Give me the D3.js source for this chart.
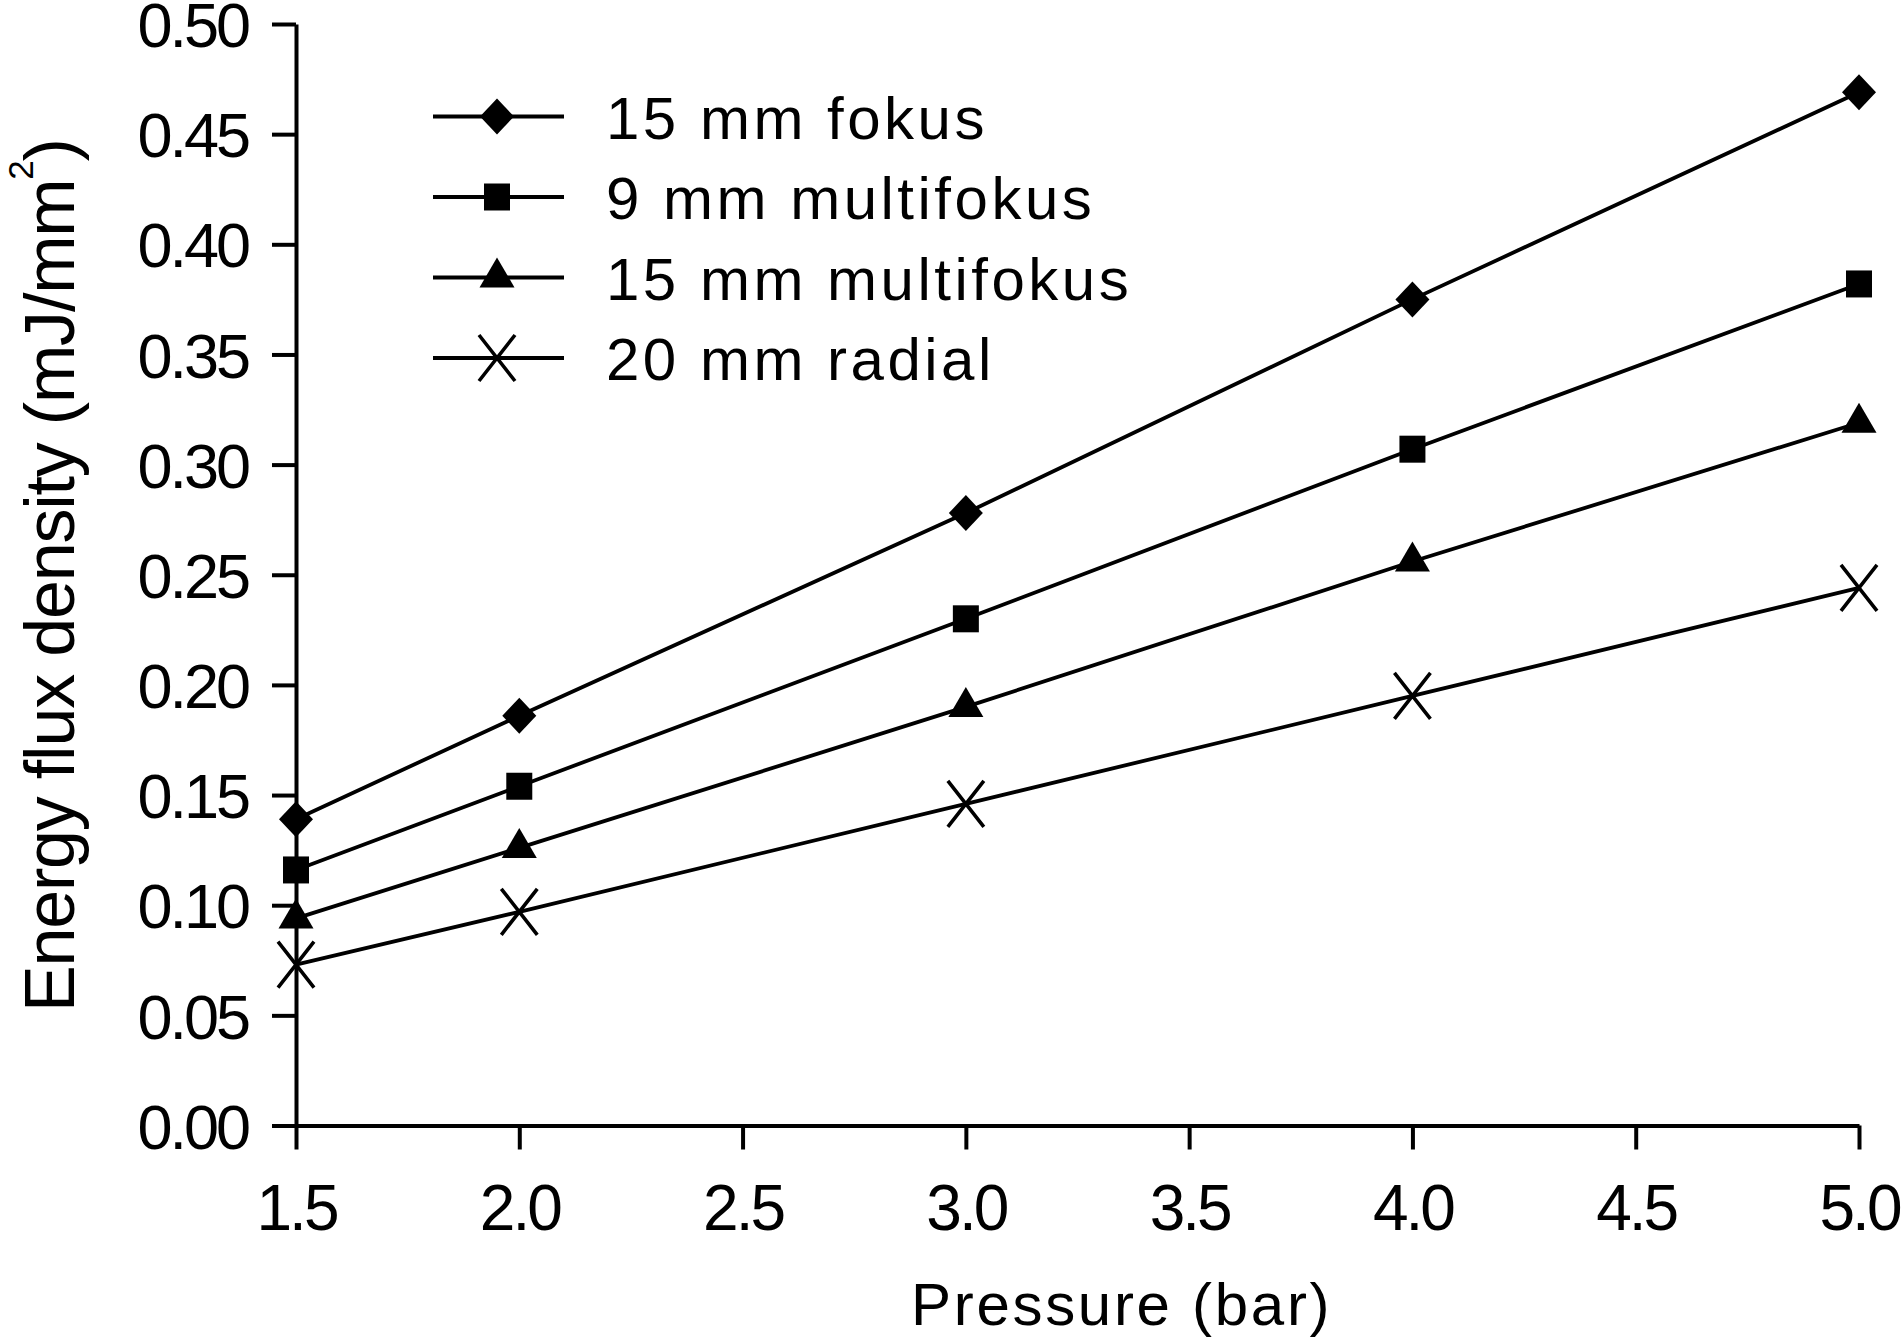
<!DOCTYPE html>
<html>
<head>
<meta charset="utf-8">
<script src="https://cdn.jsdelivr.net/npm/d3@7"></script>
<style>
  html, body { margin: 0; padding: 0; background: #fff; }
  svg { display: block; }
</style>
</head>
<body>
<svg id="chart" width="1901" height="1337"></svg>
<script>
// ---- data ----
const pressures = [1.5, 2.0, 3.0, 4.0, 5.0];
const fokus15 = [0.139, 0.186, 0.278, 0.375, 0.469];
const multifokus9 = [0.116, 0.154, 0.230, 0.307, 0.382];
const multifokus15 = [0.094, 0.126, 0.190, 0.256, 0.319];
const radial20 = [0.073, 0.097, 0.146, 0.195, 0.244];
const seriesNames = ["15 mm fokus", "9 mm multifokus", "15 mm multifokus", "20 mm radial"];
const seriesMarkers = ["diamond", "square", "triangle", "cross"];
const xTickValues = [1.5, 2.0, 2.5, 3.0, 3.5, 4.0, 4.5, 5.0];
const yTickValues = [0, 0.05, 0.10, 0.15, 0.20, 0.25, 0.30, 0.35, 0.40, 0.45, 0.50];
const xTitle = "Pressure (bar)";
const yTitleMain = "Energy flux density (mJ/mm";
const yTitleSup = "2";
const yTitleEnd = ")";

const seriesValues = [fokus15, multifokus9, multifokus15, radial20];
const series = seriesNames.map((name, i) => ({
  name, marker: seriesMarkers[i],
  points: pressures.map((p, j) => ({ x: p, y: seriesValues[i][j] }))
}));

const FONT = "'Liberation Sans', Arial, Helvetica, sans-serif";
const svg = d3.select("#chart");

const x = d3.scaleLinear().domain([1.5, 5.0]).range([296, 1859]);
const y = d3.scaleLinear().domain([0, 0.5]).range([1125.5, 24]);

// marker path generators (centered at 0,0)
function markerPath(type) {
  switch (type) {
    case "diamond": return "M0,-18L17,0L0,18L-17,0Z";
    case "square": return "M-13,-13.5H13V13.5H-13Z";
    case "triangle": return "M0,-20L17.5,10L-17.5,10Z";
    case "cross": return "M-18,-23L18,23M18,-23L-18,23";
  }
}
function drawMarker(g, type) {
  const p = g.append("path").attr("d", markerPath(type));
  if (type === "cross") p.attr("fill", "none").attr("stroke", "#000").attr("stroke-width", 3.6);
  else p.attr("fill", "#000").attr("stroke", "none");
}

// ---- axes ----
const yAxis = d3.axisLeft(y).tickValues(yTickValues).tickFormat(d3.format(".2f"))
  .tickSize(24).tickSizeOuter(0).tickPadding(24);
const gy = svg.append("g").attr("transform", `translate(${x(1.5)},0)`).call(yAxis);
gy.select(".domain").attr("stroke", "#000").attr("stroke-width", 4);
gy.selectAll(".tick line").attr("stroke", "#000").attr("stroke-width", 4);
gy.selectAll(".tick text").attr("font-family", FONT).attr("font-size", 63)
  .attr("letter-spacing", "-3px").attr("fill", "#000").attr("dy", "0.36em");

const xAxis = d3.axisBottom(x).tickValues(xTickValues).tickFormat(d3.format(".1f"))
  .tickSize(24).tickSizeOuter(0);
const gx = svg.append("g").attr("transform", `translate(0,${y(0)})`).call(xAxis);
gx.select(".domain").attr("stroke", "#000").attr("stroke-width", 4);
gx.selectAll(".tick line").attr("stroke", "#000").attr("stroke-width", 4);
gx.selectAll(".tick text").attr("font-family", FONT).attr("font-size", 64)
  .attr("letter-spacing", "-3px").attr("fill", "#000")
  .attr("dy", null).attr("y", 1230 - 1125.5);

// ---- axis titles ----
svg.append("text")
  .attr("x", 911).attr("y", 1325)
  .attr("font-family", FONT).attr("font-size", 60).attr("letter-spacing", "2.7px")
  .attr("fill", "#000").text(xTitle);

const yt = svg.append("text")
  .attr("transform", "translate(74,1012) rotate(-90)")
  .attr("font-family", FONT).attr("font-size", 70).attr("letter-spacing", "-1.2px")
  .attr("fill", "#000");
yt.append("tspan").text(yTitleMain);
yt.append("tspan").attr("font-size", 35).attr("dy", -41).text(yTitleSup);
yt.append("tspan").attr("dy", 41).text(yTitleEnd);

// ---- series ----
const line = d3.line().x(d => x(d.x)).y(d => y(d.y));
const gs = svg.append("g");
series.forEach(s => {
  gs.append("path").attr("d", line(s.points)).attr("fill", "none")
    .attr("stroke", "#000").attr("stroke-width", 3.8);
  s.points.forEach(p => {
    const g = gs.append("g").attr("transform", `translate(${x(p.x)},${y(p.y)})`);
    drawMarker(g, s.marker);
  });
});

// ---- legend ----
const legendRows = [116.5, 197, 277.5, 358];
series.forEach((s, i) => {
  const ly = legendRows[i];
  const g = svg.append("g");
  g.append("line").attr("x1", 433).attr("x2", 564).attr("y1", ly).attr("y2", ly)
    .attr("stroke", "#000").attr("stroke-width", 4);
  const mg = g.append("g").attr("transform", `translate(497,${ly})`);
  drawMarker(mg, s.marker);
  g.append("text").attr("x", 606).attr("y", ly + 22)
    .attr("font-family", FONT).attr("font-size", 60).attr("letter-spacing", "3.5px")
    .attr("fill", "#000").text(s.name);
});
</script>
</body>
</html>
